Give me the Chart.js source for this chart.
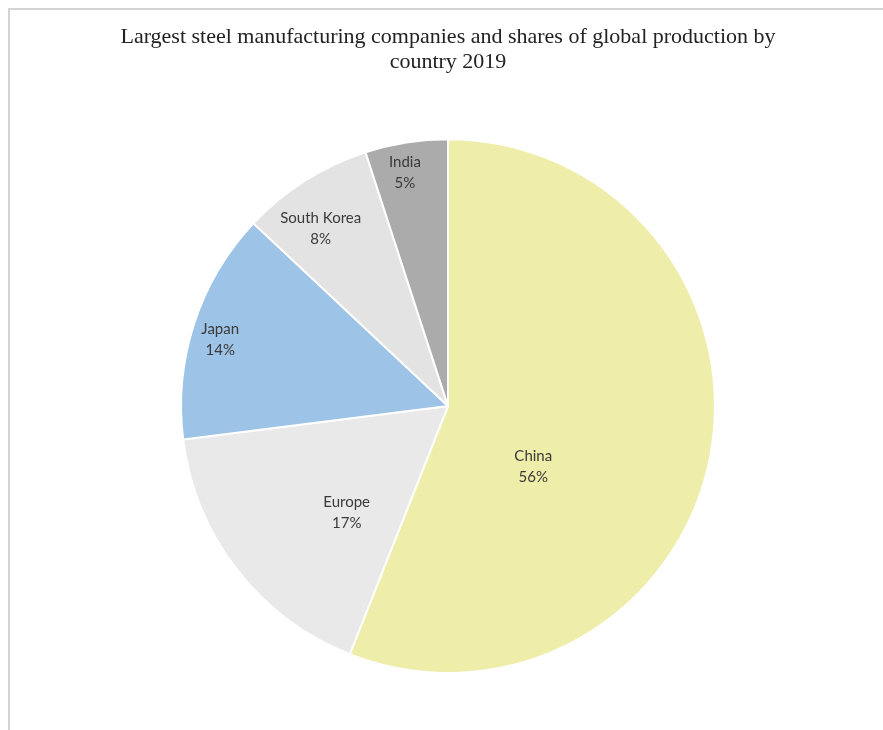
<!DOCTYPE html>
<html>
<head>
<meta charset="utf-8">
<script src="https://cdn.jsdelivr.net/npm/chart.js@4/dist/chart.umd.min.js"></script>
<style>
  html, body { margin: 0; padding: 0; background: #ffffff; }
  #wrap { position: relative; width: 883px; height: 730px; overflow: hidden; }
  #frame {
    position: absolute; left: 8px; top: 8px; width: 900px; height: 740px;
    border-top: 2px solid #d4d4d4; border-left: 2px solid #d4d4d4;
  }
  canvas { position: absolute; left: 0; top: 0; }
</style>
</head>
<body>
<div id="wrap">
  <div id="frame"></div>
  <canvas id="myChart" width="883" height="730"></canvas>
</div>
<script>
const countries = ['China', 'Europe', 'Japan', 'South Korea', 'India'];
const shares = [56, 17, 14, 8, 5];
const sliceColors = ['#EEEDA9', '#E9E9E9', '#9DC3E6', '#E3E3E3', '#ABABAB'];

// where Excel put each label: fraction along the slice angle, fraction of radius
const labelAngle = [0.62, 0.36, 0.47, 0.39, 0.42];
const labelRadius = [0.39, 0.55, 0.89, 0.82, 0.89];

const pieLabels = {
  id: 'pieLabels',
  afterDatasetsDraw(chart) {
    const ctx = chart.ctx;
    const meta = chart.getDatasetMeta(0);
    ctx.save();
    ctx.font = '15px Lato';
    ctx.fillStyle = '#3a3a3a';
    ctx.textAlign = 'center';
    ctx.textBaseline = 'middle';
    meta.data.forEach((arc, i) => {
      const a = arc.startAngle + (arc.endAngle - arc.startAngle) * labelAngle[i];
      const r = arc.outerRadius * labelRadius[i];
      const x = arc.x + Math.cos(a) * r;
      const y = arc.y + Math.sin(a) * r;
      ctx.fillText(countries[i], x, y - 10);
      ctx.fillText(shares[i] + '%', x, y + 11);
    });
    ctx.restore();
  }
};

const ctx = document.getElementById('myChart').getContext('2d');
new Chart(ctx, {
  type: 'pie',
  data: {
    labels: countries,
    datasets: [{
      data: shares,
      backgroundColor: sliceColors,
      borderColor: '#ffffff',
      borderWidth: 2,
    }],
  },
  options: {
    responsive: false,
    animation: false,
    layout: {
      padding: { left: 20, right: 7, top: 0, bottom: 56 },
    },
    plugins: {
      legend: { display: false },
      tooltip: { enabled: false },
      title: {
        display: true,
        text: ['Largest steel manufacturing companies and shares of global production by', 'country 2019'],
        color: '#222222',
        font: { family: '"Liberation Serif"', size: 22, weight: 'normal', lineHeight: 1.14 },
        padding: { top: 25, bottom: 63 },
      },
    },
  },
  plugins: [pieLabels],
});
</script>
</body>
</html>
